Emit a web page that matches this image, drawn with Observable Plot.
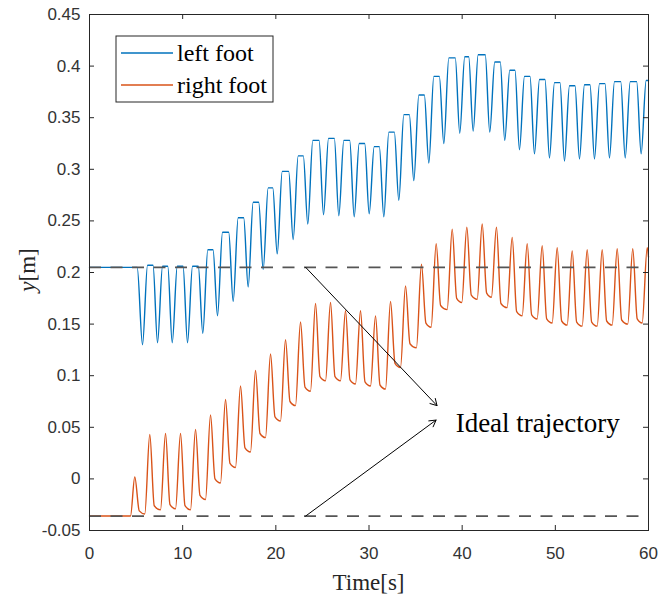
<!DOCTYPE html>
<html><head><meta charset="utf-8">
<script src="https://cdn.jsdelivr.net/npm/d3@7"></script>
<script src="https://cdn.jsdelivr.net/npm/@observablehq/plot@0.6"></script>
<style>body{margin:0;background:#fff}#chart{width:660px;height:596px}</style>
</head><body><div id="chart"></div>
<script>
// ---- data ----
const xTicks = [0, 10, 20, 30, 40, 50, 60];
const yTicks = [-0.05, 0, 0.05, 0.1, 0.15, 0.2, 0.25, 0.3, 0.35, 0.4, 0.45];
const idealLevels = [0.205, -0.036];
const seriesNames = ["left foot", "right foot"];
const seriesColors = ["#0072BD", "#D95319"];

// left foot: [time s, y m]
const leftFoot = [
[0,0.205],[5.12,0.205],
[5.69,0.130],[6.23,0.207],[6.82,0.207],
[7.30,0.132],[7.84,0.206],[8.40,0.206],
[8.88,0.132],[9.42,0.206],[10.04,0.206],
[10.52,0.132],[11.06,0.206],[11.68,0.206],
[12.16,0.141],[12.70,0.222],[13.26,0.222],
[13.74,0.158],[14.28,0.239],[14.94,0.239],
[15.42,0.172],[15.96,0.253],[16.55,0.253],
[17.03,0.186],[17.57,0.268],[18.16,0.268],
[18.64,0.203],[19.18,0.282],[19.67,0.282],
[20.15,0.218],[20.69,0.298],[21.38,0.298],
[21.86,0.232],[22.40,0.313],[22.95,0.313],
[23.43,0.247],[23.97,0.328],[24.64,0.328],
[25.12,0.256],[25.66,0.330],[26.28,0.330],
[26.76,0.255],[27.30,0.328],[27.93,0.328],
[28.41,0.254],[28.95,0.325],[29.54,0.325],
[30.02,0.257],[30.56,0.322],[31.11,0.322],
[31.59,0.254],[32.13,0.336],[32.72,0.336],
[33.20,0.270],[33.74,0.353],[34.33,0.353],
[34.81,0.289],[35.35,0.372],[35.94,0.372],
[36.42,0.306],[36.96,0.390],[37.55,0.390],
[38.03,0.325],[38.57,0.408],[39.26,0.408],
[39.74,0.335],[40.28,0.409],[40.70,0.409],
[41.18,0.337],[41.72,0.411],[42.48,0.411],
[42.96,0.336],[43.50,0.404],[44.09,0.404],
[44.57,0.328],[45.11,0.396],[45.67,0.396],
[46.15,0.319],[46.69,0.390],[47.28,0.390],
[47.76,0.315],[48.30,0.387],[48.89,0.387],
[49.37,0.311],[49.91,0.384],[50.50,0.384],
[50.98,0.308],[51.52,0.381],[52.11,0.381],
[52.59,0.310],[53.13,0.382],[53.72,0.382],
[54.20,0.310],[54.74,0.383],[55.33,0.383],
[55.81,0.311],[56.35,0.385],[57.02,0.385],
[57.50,0.311],[58.04,0.385],[58.73,0.385],
[59.21,0.315],[59.75,0.386],[60,0.386]
];

// right foot: [time s, y m]
const rightFoot = [
[0,-0.036],[4.40,-0.036],
[4.86,0.002],[5.34,-0.031],[5.93,-0.034],
[6.47,0.043],[6.95,-0.026],[7.62,-0.030],
[8.16,0.044],[8.64,-0.025],[9.23,-0.029],
[9.77,0.044],[10.25,-0.026],[10.84,-0.030],
[11.38,0.048],[11.86,-0.016],[12.45,-0.020],
[12.99,0.062],[13.47,0.000],[14.06,-0.004],
[14.60,0.077],[15.08,0.015],[15.67,0.011],
[16.21,0.090],[16.69,0.030],[17.28,0.026],
[17.82,0.105],[18.30,0.044],[18.89,0.040],
[19.43,0.121],[19.91,0.060],[20.50,0.056],
[21.04,0.135],[21.52,0.075],[22.11,0.071],
[22.65,0.152],[23.13,0.089],[23.72,0.085],
[24.26,0.170],[24.74,0.099],[25.33,0.095],
[25.87,0.171],[26.35,0.099],[26.94,0.095],
[27.48,0.163],[27.96,0.096],[28.55,0.092],
[29.09,0.163],[29.57,0.094],[30.16,0.090],
[30.70,0.158],[31.18,0.091],[31.77,0.087],
[32.31,0.172],[32.79,0.112],[33.38,0.108],
[33.92,0.187],[34.40,0.131],[35.09,0.127],
[35.63,0.208],[36.11,0.151],[36.67,0.147],
[37.21,0.228],[37.69,0.168],[38.39,0.164],
[38.93,0.242],[39.41,0.175],[39.96,0.171],
[40.50,0.244],[40.98,0.178],[41.61,0.174],
[42.15,0.247],[42.63,0.180],[43.14,0.176],
[43.68,0.244],[44.16,0.170],[44.83,0.166],
[45.37,0.234],[45.85,0.162],[46.44,0.158],
[46.98,0.228],[47.46,0.159],[48.05,0.155],
[48.59,0.226],[49.07,0.155],[49.66,0.151],
[50.20,0.224],[50.68,0.153],[51.27,0.149],
[51.81,0.221],[52.29,0.152],[52.88,0.148],
[53.42,0.222],[53.90,0.152],[54.49,0.148],
[55.03,0.222],[55.51,0.153],[56.10,0.149],
[56.64,0.223],[57.12,0.154],[57.77,0.150],
[58.31,0.223],[58.79,0.155],[59.32,0.151],
[59.86,0.224],[60,0.215]
];

// annotation arrows (data coordinates)
const annotationText = "Ideal trajectory";
const arrows = [
  {x1: 23.2, y1: 0.205, x2: 37.3, y2: 0.071},
  {x1: 23.2, y1: -0.036, x2: 37.2, y2: 0.057}
];

// ---- chart ----
const W = 660, H = 596, mL = 89, mR = 12, mT = 14, mB = 66;
const pw = W - mL - mR, ph = H - mT - mB;
const ink = "#262626";
const serif = "'Liberation Serif','Times New Roman',serif";
const fmt = d => String(+d.toFixed(2));

const chart = Plot.plot({
  width: W, height: H,
  marginLeft: mL, marginRight: mR, marginTop: mT, marginBottom: mB,
  style: {background: "white", fontFamily: "'Liberation Sans',Arial,sans-serif", overflow: "visible"},
  x: {domain: [0, 60]},
  y: {domain: [-0.05, 0.45]},
  marks: [
    Plot.line(leftFoot, {x: d => d[0], y: d => d[1], stroke: seriesColors[0], strokeWidth: 1.4, curve: "monotone-x"}),
    Plot.line(rightFoot, {x: d => d[0], y: d => d[1], stroke: seriesColors[1], strokeWidth: 1.4, curve: "monotone-x"}),
    Plot.ruleY(idealLevels, {y: d => d, stroke: "#555", strokeWidth: 1.8, strokeDasharray: "12,9.5"}),
    Plot.arrow(arrows, {x1: "x1", y1: "y1", x2: "x2", y2: "y2", stroke: "black", strokeWidth: 1, headLength: 11, headAngle: 60}),
    Plot.text([annotationText], {x: 39.3, y: 0.054, text: d => d, textAnchor: "start", lineAnchor: "middle", fontSize: 27, fontFamily: serif, fill: "black"}),
    Plot.frame({stroke: ink, strokeWidth: 1}),
    Plot.ruleX(xTicks, {x: d => d, insetTop: ph - 5, stroke: ink}),
    Plot.ruleX(xTicks, {x: d => d, insetBottom: ph - 5, stroke: ink}),
    Plot.ruleY(yTicks, {y: d => d, insetRight: pw - 5, stroke: ink}),
    Plot.ruleY(yTicks, {y: d => d, insetLeft: pw - 5, stroke: ink}),
    Plot.axisX({ticks: xTicks, tickSize: 0, tickPadding: 16, fontSize: 17, label: null, tickFormat: fmt, fill: "#333"}),
    Plot.axisY({ticks: yTicks, tickSize: 0, tickPadding: 9, fontSize: 17, label: null, tickFormat: fmt, fill: "#333"})
  ]
});

const svg = d3.select(chart);
// axis titles
svg.append("text").attr("x", mL + pw / 2).attr("y", 590).attr("text-anchor", "middle")
  .attr("font-family", serif).attr("font-size", 23).attr("fill", ink).text("Time[s]");
const yl = svg.append("text").attr("transform", "translate(35,270) rotate(-90)").attr("text-anchor", "middle")
  .attr("font-family", serif).attr("font-size", 23).attr("fill", ink);
yl.append("tspan").attr("font-style", "italic").text("y");
yl.append("tspan").text("[m]");

// legend
const lg = svg.append("g");
lg.append("rect").attr("x", 116).attr("y", 36).attr("width", 157).attr("height", 66)
  .attr("fill", "white").attr("stroke", ink).attr("stroke-width", 1);
seriesNames.forEach((name, i) => {
  const cy = 53 + i * 32;
  lg.append("line").attr("x1", 121).attr("x2", 173).attr("y1", cy).attr("y2", cy)
    .attr("stroke", seriesColors[i]).attr("stroke-width", 1.4);
  lg.append("text").attr("x", 177).attr("y", cy + 8).attr("text-anchor", "start")
    .attr("font-family", serif).attr("font-size", 24).attr("fill", "black").text(name);
});

document.getElementById("chart").appendChild(chart);
</script>
</body></html>
